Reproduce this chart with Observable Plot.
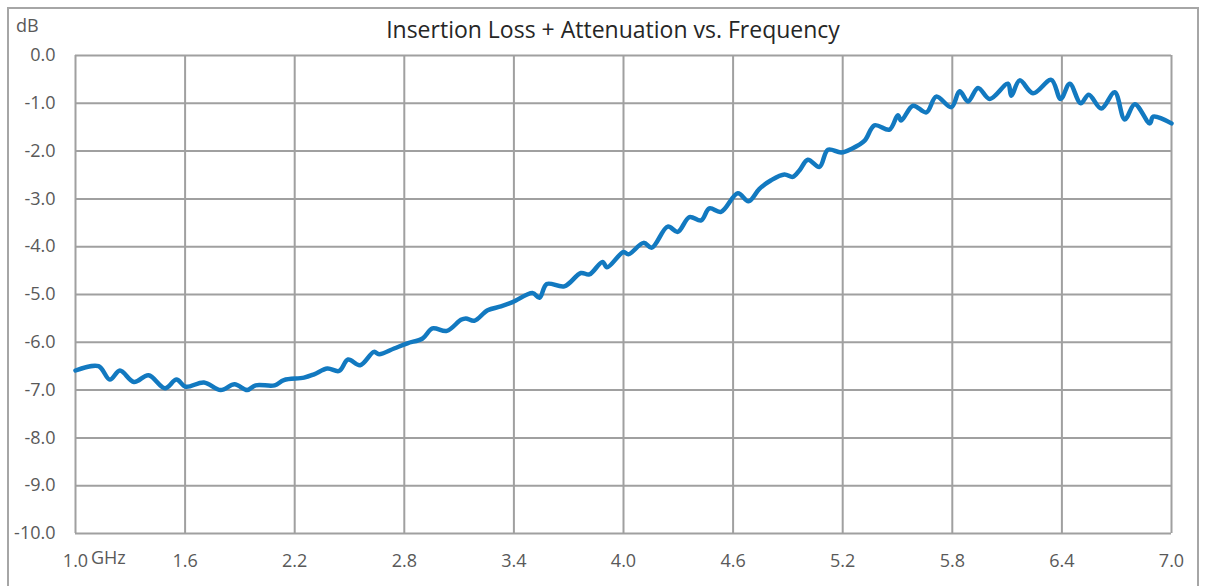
<!DOCTYPE html>
<html>
<head>
<meta charset="utf-8">
<script src="https://cdn.jsdelivr.net/npm/d3@7"></script>
<script src="https://cdn.jsdelivr.net/npm/@observablehq/plot@0.6"></script>
<style>
  html, body { margin: 0; padding: 0; background: #ffffff; }
  #wrap { position: relative; width: 1207px; height: 586px; overflow: hidden; font-family: "Open Sans", sans-serif; }
  #border { position: absolute; left: 7px; top: 7px; width: 1192px; height: 620px; border: 2px solid #a6a6a6; box-sizing: border-box; }
  #chart { position: absolute; left: 0; top: 0; }
  .lbl { position: absolute; white-space: nowrap; line-height: 1; }
  #title { left: 0; width: 1226px; top: 18px; text-align: center; font-size: 23px; color: #262626; }
  #unitY { left: 16px; top: 16px; font-size: 18px; color: #595959; }
  #unitX { left: 91px; top: 548px; font-size: 18px; color: #595959; }
</style>
</head>
<body>
<div id="wrap">
  <div id="border"></div>
  <div id="chart"></div>
  <div class="lbl" id="title"></div>
  <div class="lbl" id="unitY"></div>
  <div class="lbl" id="unitX"></div>
</div>
<script>
// ---- Data ----
const titleText = "Insertion Loss + Attenuation vs. Frequency";
const yUnit = "dB";
const xUnit = "GHz";

const freqGHz = [
  1.000, 1.126, 1.188, 1.243, 1.320, 1.400, 1.490, 1.553, 1.603, 1.703,
  1.795, 1.871, 1.940, 1.986, 2.090, 2.141, 2.251, 2.306, 2.379, 2.443,
  2.492, 2.558, 2.634, 2.662, 2.744, 2.817, 2.900, 2.954, 3.033, 3.110,
  3.137, 3.183, 3.256, 3.329, 3.393, 3.502, 3.540, 3.580, 3.676, 3.767,
  3.813, 3.885, 3.910, 4.000, 4.027, 4.110, 4.155, 4.242, 4.297, 4.361,
  4.425, 4.470, 4.534, 4.626, 4.684, 4.744, 4.808, 4.881, 4.927, 4.964,
  5.009, 5.073, 5.119, 5.192, 5.250, 5.320, 5.374, 5.456, 5.502, 5.520,
  5.585, 5.658, 5.712, 5.795, 5.840, 5.886, 5.941, 6.005, 6.105, 6.123,
  6.169, 6.242, 6.342, 6.393, 6.443, 6.503, 6.547, 6.616, 6.689, 6.744,
  6.799, 6.881, 6.900, 7.000
];
const lossDb = [
  -6.59, -6.50, -6.78, -6.59, -6.83, -6.69, -6.96, -6.78, -6.93, -6.84,
  -7.00, -6.88, -7.00, -6.90, -6.90, -6.79, -6.74, -6.67, -6.55, -6.60,
  -6.36, -6.48, -6.20, -6.25, -6.13, -6.02, -5.92, -5.71, -5.76, -5.53,
  -5.50, -5.55, -5.33, -5.25, -5.16, -4.97, -5.07, -4.78, -4.83, -4.55,
  -4.58, -4.32, -4.43, -4.11, -4.16, -3.92, -4.02, -3.58, -3.69, -3.38,
  -3.45, -3.20, -3.27, -2.88, -3.05, -2.79, -2.61, -2.49, -2.54, -2.40,
  -2.18, -2.33, -1.97, -2.03, -1.95, -1.78, -1.46, -1.55, -1.25, -1.36,
  -1.05, -1.19, -0.86, -1.08, -0.75, -0.96, -0.68, -0.91, -0.59, -0.84,
  -0.52, -0.79, -0.51, -0.91, -0.59, -1.00, -0.82, -1.11, -0.77, -1.34,
  -1.02, -1.42, -1.28, -1.42
];

const xTicks = [1.0, 1.6, 2.2, 2.8, 3.4, 4.0, 4.6, 5.2, 5.8, 6.4, 7.0];
const yTicks = [0, -1, -2, -3, -4, -5, -6, -7, -8, -9, -10];

// ---- Build table ----
const rows = freqGHz.map((f, i) => ({ f, v: lossDb[i] }));

document.getElementById("title").textContent = titleText;
document.getElementById("unitY").textContent = yUnit;
document.getElementById("unitX").textContent = xUnit;

const gridColor = "#a0a0a0";
const tickColor = "#595959";

const chart = Plot.plot({
  width: 1207,
  height: 586,
  marginLeft: 75,
  marginRight: 36,
  marginTop: 55,
  marginBottom: 53,
  style: { fontFamily: "'Open Sans', sans-serif", fontSize: "18px", background: "transparent", color: tickColor },
  x: { domain: [1, 7], ticks: xTicks },
  y: { domain: [-10, 0], ticks: yTicks },
  marks: [
    Plot.gridX(xTicks, { stroke: gridColor, strokeOpacity: 1, strokeWidth: 2 }),
    Plot.gridY(yTicks, { stroke: gridColor, strokeOpacity: 1, strokeWidth: 2 }),
    Plot.axisX(xTicks, { tickSize: 0, tickPadding: 21, tickFormat: d => d.toFixed(1), fill: tickColor, label: null, fontSize: 18 }),
    Plot.axisY(yTicks, { tickSize: 0, tickPadding: 20, tickFormat: d => d.toFixed(1), fill: tickColor, label: null, fontSize: 18 }),
    Plot.line(rows, { x: "f", y: "v", stroke: "#1279c0", strokeWidth: 4.5, curve: "catmull-rom", strokeLinejoin: "round", strokeLinecap: "round" })
  ]
});
document.getElementById("chart").appendChild(chart);
</script>
</body>
</html>
